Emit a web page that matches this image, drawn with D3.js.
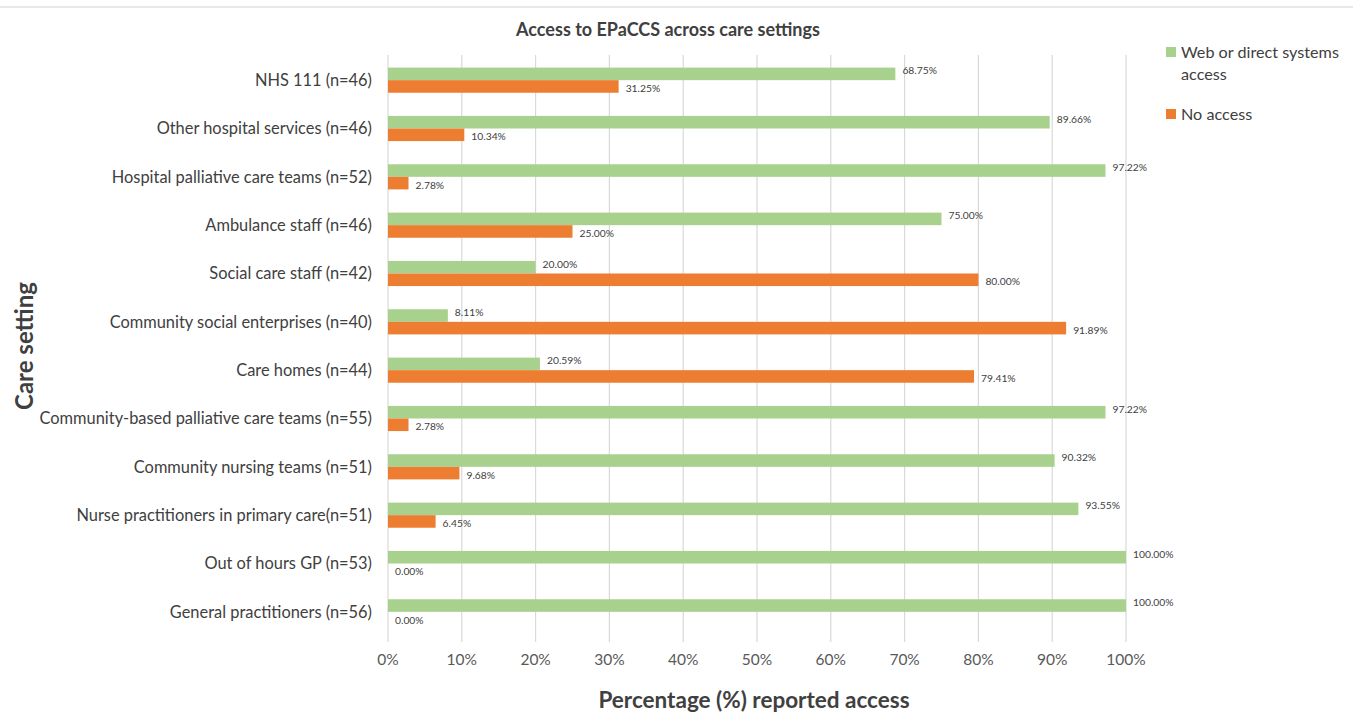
<!DOCTYPE html>
<html><head><meta charset="utf-8">
<script src="https://cdn.jsdelivr.net/npm/d3@7"></script>
<style>body{margin:0;background:#fff;} text{font-family:Lato,"Open Sans",sans-serif;}</style>
</head><body>
<svg id="c" width="1353" height="715"></svg>
<script>
const categories = ["NHS 111 (n=46)","Other hospital services (n=46)","Hospital palliative care teams (n=52)","Ambulance staff (n=46)","Social care staff (n=42)","Community social enterprises (n=40)","Care homes (n=44)","Community-based palliative care teams (n=55)","Community nursing teams (n=51)","Nurse practitioners in primary care(n=51)","Out of hours GP (n=53)","General practitioners (n=56)"];
const webAccess = [68.75,89.66,97.22,75.00,20.00,8.11,20.59,97.22,90.32,93.55,100.00,100.00];
const noAccess = [31.25,10.34,2.78,25.00,80.00,91.89,79.41,2.78,9.68,6.45,0.00,0.00];
const xTicks = [0,10,20,30,40,50,60,70,80,90,100];
const seriesNames = ["Web or direct systems access","No access"];
const colors = ["#A9D18E","#ED7D31"];

const svg = d3.select("#c");
svg.append("line").attr("x1",0).attr("x2",1353).attr("y1",7).attr("y2",7).attr("stroke","#e0e0e0").attr("stroke-width",1.5);

const x = d3.scaleLinear().domain([0,100]).range([388,1126]);
const y = d3.scaleBand().domain(categories).range([56,636]).paddingInner(0.48).paddingOuter(0.24);
const sub = d3.scaleBand().domain([0,1]).range([0,y.bandwidth()]);

// gridlines
svg.append("g").selectAll("line").data(xTicks).join("line")
  .attr("x1",d=>x(d)).attr("x2",d=>x(d)).attr("y1",55).attr("y2",642)
  .attr("stroke","#d9d9d9").attr("stroke-width",1.2);

// x tick labels
svg.append("g").selectAll("text").data(xTicks).join("text")
  .attr("x",d=>x(d)).attr("y",665).attr("text-anchor","middle")
  .attr("font-size",15.5).attr("fill","#595959").text(d=>d+"%");

// category labels
svg.append("g").selectAll("text").data(categories).join("text")
  .attr("x",372).attr("y",d=>y(d)+y.bandwidth()/2).attr("dy","0.35em")
  .attr("text-anchor","end").attr("font-size",16.4).attr("fill","#404040").text(d=>d);

const series = [webAccess,noAccess];
series.forEach((vals,si)=>{
  const g = svg.append("g");
  g.selectAll("rect").data(vals).join("rect")
    .attr("x",x(0)).attr("y",(d,i)=>y(categories[i])+sub(si))
    .attr("width",d=>x(d)-x(0)).attr("height",sub.bandwidth())
    .attr("fill",colors[si]);
  g.selectAll("text").data(vals).join("text")
    .attr("x",d=>x(d)+7).attr("y",(d,i)=>y(categories[i])+sub(si)+sub.bandwidth()/2+ (si===1?2:-3))
    .attr("dy","0.35em").attr("font-size",10.3).attr("fill","#404040")
    .text(d=>d.toFixed(2)+"%");
});

// title
svg.append("text").attr("x",668).attr("y",36).attr("text-anchor","middle")
  .attr("font-size",18).attr("font-weight","bold").attr("fill","#404040").text("Access to EPaCCS across care settings");
// x axis title
svg.append("text").attr("x",754).attr("y",708).attr("text-anchor","middle")
  .attr("font-size",22.5).attr("font-weight","bold").attr("fill","#404040").text("Percentage (%) reported access");
// y axis title
svg.append("text").attr("transform","translate(33,346) rotate(-90)").attr("text-anchor","middle")
  .attr("font-size",24).attr("font-weight","bold").attr("fill","#404040").text("Care setting");

// legend
const lg = svg.append("g");
lg.append("rect").attr("x",1166).attr("y",47).attr("width",10).attr("height",10).attr("fill",colors[0]);
lg.append("text").attr("x",1181).attr("y",58).attr("font-size",16.2).attr("fill","#404040").text("Web or direct systems");
lg.append("text").attr("x",1181).attr("y",80).attr("font-size",16.2).attr("fill","#404040").text("access");
lg.append("rect").attr("x",1166).attr("y",109).attr("width",10).attr("height",10).attr("fill",colors[1]);
lg.append("text").attr("x",1181).attr("y",120).attr("font-size",16.2).attr("fill","#404040").text(seriesNames[1]);
</script>
</body></html>
